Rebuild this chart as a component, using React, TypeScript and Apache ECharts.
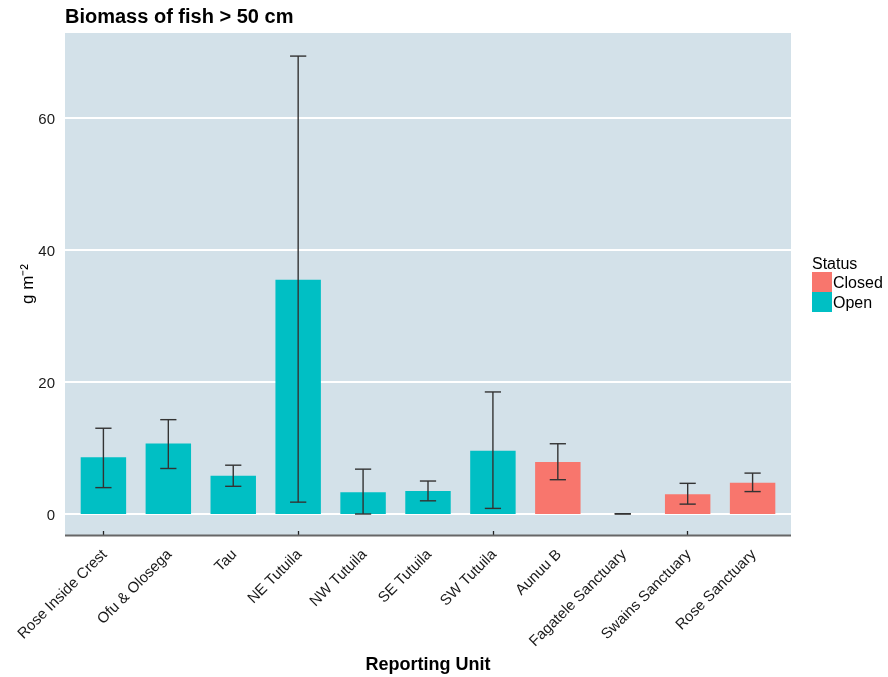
import React, { useEffect, useRef } from "react";
import * as echarts from "echarts";

const categories = [
  "Rose Inside Crest",
  "Ofu & Olosega",
  "Tau",
  "NE Tutuila",
  "NW Tutuila",
  "SE Tutuila",
  "SW Tutuila",
  "Aunuu B",
  "Fagatele Sanctuary",
  "Swains Sanctuary",
  "Rose Sanctuary",
];
const status = ["Open", "Open", "Open", "Open", "Open", "Open", "Open", "Closed", "Closed", "Closed", "Closed"];
const biomass = [8.6, 10.7, 5.8, 35.5, 3.3, 3.5, 9.6, 7.9, 0, 3.0, 4.75];
const errLow = [4.0, 6.9, 4.2, 1.8, 0.0, 2.0, 0.85, 5.2, 0, 1.5, 3.4];
const errHigh = [13.0, 14.3, 7.4, 69.4, 6.8, 5.0, 18.5, 10.65, 0.05, 4.65, 6.2];
const yTicks = [0, 20, 40, 60];
const legendNames = ["Closed", "Open"];

const COLORS: Record<string, string> = { Closed: "#F8766D", Open: "#00BFC4" };
const FONT = "Liberation Sans, Arial, sans-serif";

// panel (ggplot-like) extent
const PANEL_L = 65;
const PANEL_R = 791;
const PANEL_T = 33;
const PANEL_B = 535;
const UNIT = (PANEL_R - PANEL_L) / (categories.length + 1.2);
const PAD = UNIT * 0.1;

export default function App() {
  const ref = useRef<HTMLDivElement>(null);
  useEffect(() => {
    if (!ref.current) return;
    const chart = echarts.init(ref.current, undefined, { renderer: "svg" });
    const seriesFor = (s: string) => ({
      name: s,
      type: "bar",
      data: biomass.map((v, i) => (status[i] === s ? v : null)),
      barWidth: "70%",
      barGap: "-100%",
      itemStyle: { color: COLORS[s] },
      z: 3,
    });
    chart.setOption({
      animation: false,
      textStyle: { fontFamily: FONT },
      title: {
        text: "Biomass of fish > 50 cm",
        left: 65,
        top: 6,
        padding: 0,
        textStyle: { fontSize: 20, fontWeight: "bold", color: "#000", fontFamily: FONT },
      },
      grid: {
        left: PANEL_L + PAD,
        right: 888 - (PANEL_R - PAD),
        top: PANEL_T,
        bottom: 677 - PANEL_B,
        show: false,
        containLabel: false,
        outerBoundsMode: "none",
      },
      legend: {
        data: legendNames,
        orient: "vertical",
        left: 812,
        top: 272,
        padding: 0,
        itemWidth: 20,
        itemHeight: 20,
        itemGap: 0,
        icon: "rect",
        textStyle: { fontSize: 16, color: "#000", fontFamily: FONT, padding: [0, 0, 0, -4] },
      },
      xAxis: {
        type: "category",
        data: categories,
        boundaryGap: true,
        axisLine: { show: false, onZero: false },
        axisTick: { show: true, inside: true, alignWithLabel: true, length: 4, lineStyle: { color: "#222", width: 1.3 } },
        axisLabel: { show: false },
        splitLine: { show: false },
      },
      yAxis: {
        type: "value",
        min: -3.18,
        max: 72.9,
        axisLine: { show: false },
        axisTick: { show: false },
        axisLabel: { show: false },
        splitLine: { show: false },
      },
      graphic: [
        {
          type: "rect",
          z: 0,
          silent: true,
          shape: { x: PANEL_L, y: PANEL_T, width: PANEL_R - PANEL_L, height: PANEL_B - PANEL_T },
          style: { fill: "#D3E1E9" },
        },
        {
          type: "line",
          z: 10,
          silent: true,
          shape: { x1: PANEL_L, y1: PANEL_B + 0.5, x2: PANEL_R, y2: PANEL_B + 0.5 },
          style: { stroke: "#666", lineWidth: 1.8 },
        },
        {
          type: "text",
          x: 27,
          y: 284,
          rotation: Math.PI / 2,
          style: {
            text: "g m⁻²",
            fontSize: 17,
            fill: "#000",
            fontFamily: FONT,
            textAlign: "center",
            textVerticalAlign: "middle",
          },
        },
        {
          type: "text",
          x: 812,
          y: 255,
          style: { text: "Status", fontSize: 16, fill: "#000", fontFamily: FONT },
        },
        {
          type: "text",
          x: (PANEL_L + PANEL_R) / 2,
          y: 664,
          style: {
            text: "Reporting Unit",
            fontSize: 18,
            fontWeight: "bold",
            fill: "#000",
            fontFamily: FONT,
            textAlign: "center",
            textVerticalAlign: "middle",
          },
        },
      ],
      series: [
        {
          name: "grid",
          type: "custom",
          z: 1,
          silent: true,
          clip: false,
          data: yTicks.map((v) => [0, v]),
          renderItem: (params: any, api: any) => {
            const v = api.value(1);
            const p = api.coord([0, v]);
            return {
              type: "group",
              children: [
                {
                  type: "line",
                  shape: { x1: PANEL_L, y1: p[1], x2: PANEL_R, y2: p[1] },
                  style: { stroke: "#ffffff", lineWidth: 2 },
                },
                {
                  type: "text",
                  x: PANEL_L - 10,
                  y: p[1],
                  style: {
                    text: String(v),
                    fontSize: 15,
                    fill: "#1a1a1a",
                    fontFamily: FONT,
                    textAlign: "right",
                    textVerticalAlign: "middle",
                  },
                },
              ],
            };
          },
        },
        {
          name: "labels",
          type: "custom",
          z: 1,
          silent: true,
          clip: false,
          data: categories.map((_, i) => [i, 0]),
          renderItem: (params: any, api: any) => {
            const i = api.value(0);
            const p = api.coord([i, 0]);
            return {
              type: "text",
              x: p[0] - 5,
              y: PANEL_B + 11,
              rotation: Math.PI / 4,
              style: {
                text: categories[i],
                fontSize: 15,
                fill: "#1a1a1a",
                fontFamily: FONT,
                textAlign: "right",
                textVerticalAlign: "top",
              },
            };
          },
        },
        seriesFor("Closed"),
        seriesFor("Open"),
        {
          name: "errors",
          type: "custom",
          z: 5,
          silent: true,
          data: categories.map((_, i) => [i, errLow[i], errHigh[i]]),
          renderItem: (params: any, api: any) => {
            const i = api.value(0);
            const lo = api.coord([i, api.value(1)]);
            const hi = api.coord([i, api.value(2)]);
            const hw = api.size([1, 0])[0] * 0.125;
            const st = { stroke: "#333", lineWidth: 1.4 };
            return {
              type: "group",
              children: [
                { type: "line", shape: { x1: lo[0], y1: lo[1], x2: hi[0], y2: hi[1] }, style: st },
                { type: "line", shape: { x1: hi[0] - hw, y1: hi[1], x2: hi[0] + hw, y2: hi[1] }, style: st },
                { type: "line", shape: { x1: lo[0] - hw, y1: lo[1], x2: lo[0] + hw, y2: lo[1] }, style: st },
              ],
            };
          },
        },
      ],
    });
    return () => chart.dispose();
  }, []);
  return <div ref={ref} style={{ position: "fixed", left: 0, top: 0, width: 888, height: 677 }} />;
}
